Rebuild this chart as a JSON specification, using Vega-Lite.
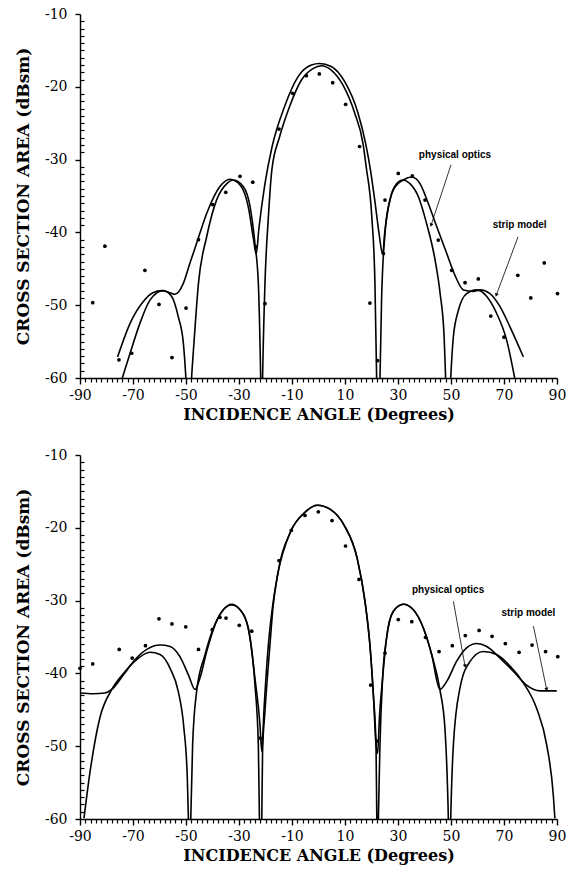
{
  "$schema": "https://vega.github.io/schema/vega-lite/v6.json",
  "background": "white",
  "padding": {"left": 14, "top": 7, "right": 5, "bottom": 3},
  "spacing": 26,
  "config": {
    "view": {"stroke": null},
    "axis": {
      "domainColor": "#000",
      "domainWidth": 1.4,
      "labelFont": "DejaVu Serif",
      "labelFontSize": 14,
      "labelColor": "#000",
      "titleFont": "DejaVu Serif",
      "titleFontWeight": "bold",
      "titleColor": "#000"
    }
  },
  "datasets": {
    "top_lines": [
      {"model":"strip model","x":-75.8,"y":-57.1},{"model":"strip model","x":-71.1,"y":-52.5},{"model":"strip model","x":-66.1,"y":-49.5},{"model":"strip model","x":-62.5,"y":-48.3},{"model":"strip model","x":-59.2,"y":-48.0},{"model":"strip model","x":-56.0,"y":-48.3},{"model":"strip model","x":-54.2,"y":-48.5},{"model":"strip model","x":-51.0,"y":-47.0},{"model":"strip model","x":-48.5,"y":-44.2},{"model":"strip model","x":-46.0,"y":-41.5},{"model":"strip model","x":-42.2,"y":-37.4},{"model":"strip model","x":-37.2,"y":-33.7},{"model":"strip model","x":-33.4,"y":-32.7},{"model":"strip model","x":-29.6,"y":-33.5},{"model":"strip model","x":-26.5,"y":-36.5},{"model":"strip model","x":-24.5,"y":-41.0},{"model":"strip model","x":-23.5,"y":-43.0},{"model":"strip model","x":-22.5,"y":-39.5},{"model":"strip model","x":-20.2,"y":-33.3},{"model":"strip model","x":-17.5,"y":-28.2},{"model":"strip model","x":-12.8,"y":-22.7},{"model":"strip model","x":-7.7,"y":-18.6},{"model":"strip model","x":-2.7,"y":-17.0},{"model":"strip model","x":0.4,"y":-16.8},{"model":"strip model","x":4.8,"y":-17.2},{"model":"strip model","x":9.9,"y":-19.3},{"model":"strip model","x":14.9,"y":-23.6},{"model":"strip model","x":17.8,"y":-27.8},{"model":"strip model","x":19.6,"y":-31.4},{"model":"strip model","x":21.2,"y":-35.5},{"model":"strip model","x":22.8,"y":-40.0},{"model":"strip model","x":24.2,"y":-43.0},{"model":"strip model","x":25.0,"y":-40.0},{"model":"strip model","x":25.9,"y":-37.5},{"model":"strip model","x":28.2,"y":-34.2},{"model":"strip model","x":32.0,"y":-32.8},{"model":"strip model","x":35.2,"y":-32.4},{"model":"strip model","x":38.3,"y":-33.3},{"model":"strip model","x":41.4,"y":-36.0},{"model":"strip model","x":44.6,"y":-39.2},{"model":"strip model","x":48.4,"y":-42.9},{"model":"strip model","x":51.5,"y":-45.9},{"model":"strip model","x":54.7,"y":-47.9},{"model":"strip model","x":58.4,"y":-48.1},{"model":"strip model","x":61.0,"y":-47.9},{"model":"strip model","x":64.7,"y":-48.4},{"model":"strip model","x":68.5,"y":-50.2},{"model":"strip model","x":72.3,"y":-53.0},{"model":"strip model","x":77.3,"y":-57.1},
      {"model":"physical optics","x":-74.3,"y":-60.3},{"model":"physical optics","x":-71.1,"y":-56.6},{"model":"physical optics","x":-67.4,"y":-52.5},{"model":"physical optics","x":-63.6,"y":-49.3},{"model":"physical optics","x":-58.6,"y":-48.0},{"model":"physical optics","x":-55.4,"y":-48.8},{"model":"physical optics","x":-52.9,"y":-51.6},{"model":"physical optics","x":-51.0,"y":-55.2},{"model":"physical optics","x":-50.0,"y":-60.3},{"model":"physical optics","x":-49.0,"y":-68},{"model":"physical optics","x":-47.9,"y":-60.0},{"model":"physical optics","x":-47.0,"y":-55.2},{"model":"physical optics","x":-45.3,"y":-47.0},{"model":"physical optics","x":-42.2,"y":-40.6},{"model":"physical optics","x":-38.4,"y":-35.5},{"model":"physical optics","x":-34.6,"y":-33.3},{"model":"physical optics","x":-32.1,"y":-32.8},{"model":"physical optics","x":-28.4,"y":-33.7},{"model":"physical optics","x":-25.8,"y":-36.5},{"model":"physical optics","x":-24.0,"y":-41.5},{"model":"physical optics","x":-22.7,"y":-47.0},{"model":"physical optics","x":-21.8,"y":-60.3},{"model":"physical optics","x":-21.45,"y":-68},{"model":"physical optics","x":-21.1,"y":-60.0},{"model":"physical optics","x":-20.2,"y":-47.0},{"model":"physical optics","x":-18.9,"y":-37.8},{"model":"physical optics","x":-17.6,"y":-31.4},{"model":"physical optics","x":-14.7,"y":-26.9},{"model":"physical optics","x":-10.9,"y":-22.7},{"model":"physical optics","x":-6.5,"y":-19.1},{"model":"physical optics","x":-2.1,"y":-17.5},{"model":"physical optics","x":1.1,"y":-17.1},{"model":"physical optics","x":4.8,"y":-17.7},{"model":"physical optics","x":9.2,"y":-19.75},{"model":"physical optics","x":13.65,"y":-23.6},{"model":"physical optics","x":16.8,"y":-27.8},{"model":"physical optics","x":18.0,"y":-31.0},{"model":"physical optics","x":20.1,"y":-37.8},{"model":"physical optics","x":21.3,"y":-47.0},{"model":"physical optics","x":21.95,"y":-60.3},{"model":"physical optics","x":22.5,"y":-68},{"model":"physical optics","x":23.2,"y":-60.0},{"model":"physical optics","x":23.8,"y":-49.3},{"model":"physical optics","x":25.1,"y":-40.1},{"model":"physical optics","x":27.0,"y":-35.5},{"model":"physical optics","x":29.5,"y":-33.3},{"model":"physical optics","x":31.8,"y":-32.8},{"model":"physical optics","x":34.5,"y":-33.3},{"model":"physical optics","x":37.7,"y":-35.1},{"model":"physical optics","x":40.8,"y":-38.8},{"model":"physical optics","x":44.0,"y":-43.8},{"model":"physical optics","x":45.9,"y":-48.4},{"model":"physical optics","x":47.4,"y":-54.3},{"model":"physical optics","x":48.0,"y":-60.3},{"model":"physical optics","x":49.0,"y":-68},{"model":"physical optics","x":49.9,"y":-60.0},{"model":"physical optics","x":50.9,"y":-54.3},{"model":"physical optics","x":52.8,"y":-50.7},{"model":"physical optics","x":55.9,"y":-48.4},{"model":"physical optics","x":59.7,"y":-47.9},{"model":"physical optics","x":63.5,"y":-48.8},{"model":"physical optics","x":67.2,"y":-51.1},{"model":"physical optics","x":71.0,"y":-54.8},{"model":"physical optics","x":74.2,"y":-60.3}
    ],
    "top_points": [
      {"x":-85.2,"y":-49.65},{"x":-80.6,"y":-41.9},{"x":-75.3,"y":-57.5},{"x":-70.5,"y":-56.6},{"x":-65.5,"y":-45.2},{"x":-60.2,"y":-49.9},{"x":-55.3,"y":-57.2},{"x":-50.0,"y":-50.4},{"x":-45.3,"y":-41.0},{"x":-39.9,"y":-36.2},{"x":-35.0,"y":-34.5},{"x":-29.6,"y":-32.3},{"x":-24.8,"y":-33.1},{"x":-23.7,"y":-42.0},{"x":-20.2,"y":-49.8},{"x":-14.9,"y":-25.8},{"x":-9.75,"y":-20.9},{"x":-4.6,"y":-18.47},{"x":0.3,"y":-18.24},{"x":5.35,"y":-19.43},{"x":10.25,"y":-22.4},{"x":15.5,"y":-28.2},{"x":19.4,"y":-49.7},{"x":22.3,"y":-57.6},{"x":24.5,"y":-42.9},{"x":25.1,"y":-35.55},{"x":30.1,"y":-31.9},{"x":35.4,"y":-32.25},{"x":40.2,"y":-35.55},{"x":45.2,"y":-41.05},{"x":50.25,"y":-45.2},{"x":55.3,"y":-46.9},{"x":60.3,"y":-46.4},{"x":65.0,"y":-51.5},{"x":70.0,"y":-54.4},{"x":75.2,"y":-45.9},{"x":80.1,"y":-49.0},{"x":85.2,"y":-44.2},{"x":90.2,"y":-48.4}
    ],
    "top_notes": [
      {"label":"physical optics","tx":51.5,"ty":-29.4,"ax":50.0,"ay":-30.7,"bx":42.5,"by":-39.0},
      {"label":"strip model","tx":75.9,"ty":-39.0,"ax":75.3,"ay":-40.6,"bx":67.1,"by":-48.6}
    ],
    "bottom_lines": [
      {"model":"strip model","x":-90,"y":-42.7},{"model":"strip model","x":-85,"y":-42.8},{"model":"strip model","x":-80.6,"y":-42.7},{"model":"strip model","x":-78,"y":-42.2},{"model":"strip model","x":-73.6,"y":-40.2},{"model":"strip model","x":-69.2,"y":-38.1},{"model":"strip model","x":-64.8,"y":-36.7},{"model":"strip model","x":-59.8,"y":-36.1},{"model":"strip model","x":-56,"y":-36.3},{"model":"strip model","x":-52.3,"y":-37.7},{"model":"strip model","x":-49.1,"y":-40.2},{"model":"strip model","x":-46.6,"y":-42.2},{"model":"strip model","x":-44.7,"y":-40.6},{"model":"strip model","x":-42.2,"y":-37.0},{"model":"strip model","x":-39,"y":-33.3},{"model":"strip model","x":-35.9,"y":-31.25},{"model":"strip model","x":-32.8,"y":-30.5},{"model":"strip model","x":-29.6,"y":-31.25},{"model":"strip model","x":-26.5,"y":-33.8},{"model":"strip model","x":-24,"y":-40.6},{"model":"strip model","x":-22.1,"y":-47},{"model":"strip model","x":-21.4,"y":-50.7},{"model":"strip model","x":-20.6,"y":-45.2},{"model":"strip model","x":-18.9,"y":-36},{"model":"strip model","x":-17.4,"y":-31},{"model":"strip model","x":-15.5,"y":-26.6},{"model":"strip model","x":-10.5,"y":-20.5},{"model":"strip model","x":-5.5,"y":-18.0},{"model":"strip model","x":-0.4,"y":-16.9},{"model":"strip model","x":4.6,"y":-17.5},{"model":"strip model","x":9.6,"y":-19.6},{"model":"strip model","x":14.6,"y":-24.2},{"model":"strip model","x":17.5,"y":-30.0},{"model":"strip model","x":19.4,"y":-36.1},{"model":"strip model","x":20.7,"y":-42.9},{"model":"strip model","x":21.7,"y":-49.8},{"model":"strip model","x":22.3,"y":-51.0},{"model":"strip model","x":23.0,"y":-46.0},{"model":"strip model","x":24.2,"y":-40.6},{"model":"strip model","x":25.7,"y":-35.1},{"model":"strip model","x":28.2,"y":-31.5},{"model":"strip model","x":32,"y":-30.5},{"model":"strip model","x":35.8,"y":-31.25},{"model":"strip model","x":39.6,"y":-33.8},{"model":"strip model","x":42.7,"y":-37.4},{"model":"strip model","x":45.8,"y":-42.2},{"model":"strip model","x":48.4,"y":-41.1},{"model":"strip model","x":52.1,"y":-38.35},{"model":"strip model","x":55.9,"y":-36.5},{"model":"strip model","x":59.7,"y":-35.9},{"model":"strip model","x":63.5,"y":-36.3},{"model":"strip model","x":68.5,"y":-37.9},{"model":"strip model","x":73.5,"y":-39.7},{"model":"strip model","x":78.5,"y":-41.6},{"model":"strip model","x":83.6,"y":-42.4},{"model":"strip model","x":89.9,"y":-42.4},
      {"model":"physical optics","x":-88.5,"y":-59.9},{"model":"physical optics","x":-86.2,"y":-53.5},{"model":"physical optics","x":-82.5,"y":-46.1},{"model":"physical optics","x":-78,"y":-42.2},{"model":"physical optics","x":-73.6,"y":-40},{"model":"physical optics","x":-68.6,"y":-38.1},{"model":"physical optics","x":-63.6,"y":-37.1},{"model":"physical optics","x":-59.8,"y":-37.4},{"model":"physical optics","x":-56,"y":-39.3},{"model":"physical optics","x":-52.9,"y":-42.5},{"model":"physical optics","x":-50.8,"y":-47.5},{"model":"physical optics","x":-49.5,"y":-54.4},{"model":"physical optics","x":-49.1,"y":-59.9},{"model":"physical optics","x":-48.6,"y":-68},{"model":"physical optics","x":-48.2,"y":-59.9},{"model":"physical optics","x":-47.5,"y":-49.8},{"model":"physical optics","x":-46,"y":-42.5},{"model":"physical optics","x":-42.8,"y":-37.4},{"model":"physical optics","x":-39.7,"y":-33.8},{"model":"physical optics","x":-35.9,"y":-31.25},{"model":"physical optics","x":-32.8,"y":-30.6},{"model":"physical optics","x":-29.6,"y":-31.25},{"model":"physical optics","x":-26.5,"y":-33.8},{"model":"physical optics","x":-24,"y":-41.5},{"model":"physical optics","x":-22.7,"y":-49.8},{"model":"physical optics","x":-22.3,"y":-59.9},{"model":"physical optics","x":-21.85,"y":-68},{"model":"physical optics","x":-21.4,"y":-59.9},{"model":"physical optics","x":-21.1,"y":-50.7},{"model":"physical optics","x":-20.2,"y":-45.2},{"model":"physical optics","x":-18.3,"y":-36},{"model":"physical optics","x":-17.2,"y":-31},{"model":"physical optics","x":-15.5,"y":-26.6},{"model":"physical optics","x":-10.5,"y":-20.5},{"model":"physical optics","x":-5.5,"y":-18.0},{"model":"physical optics","x":-0.4,"y":-16.9},{"model":"physical optics","x":4.6,"y":-17.5},{"model":"physical optics","x":9.6,"y":-19.6},{"model":"physical optics","x":14.6,"y":-24.2},{"model":"physical optics","x":17.5,"y":-30.0},{"model":"physical optics","x":19.4,"y":-36.1},{"model":"physical optics","x":20.7,"y":-42.9},{"model":"physical optics","x":21.7,"y":-49.8},{"model":"physical optics","x":22.0,"y":-59.9},{"model":"physical optics","x":22.3,"y":-68},{"model":"physical optics","x":22.6,"y":-59.9},{"model":"physical optics","x":23.2,"y":-49.8},{"model":"physical optics","x":24.2,"y":-40.6},{"model":"physical optics","x":25.7,"y":-35.1},{"model":"physical optics","x":28.2,"y":-31.5},{"model":"physical optics","x":32,"y":-30.5},{"model":"physical optics","x":35.8,"y":-31.25},{"model":"physical optics","x":39.6,"y":-33.8},{"model":"physical optics","x":42.7,"y":-37.4},{"model":"physical optics","x":45.8,"y":-42.2},{"model":"physical optics","x":47.7,"y":-47.5},{"model":"physical optics","x":49.0,"y":-59.9},{"model":"physical optics","x":49.45,"y":-68},{"model":"physical optics","x":49.9,"y":-59.9},{"model":"physical optics","x":50.9,"y":-49.8},{"model":"physical optics","x":53.4,"y":-42},{"model":"physical optics","x":57.2,"y":-38.35},{"model":"physical optics","x":62.2,"y":-37},{"model":"physical optics","x":67.2,"y":-37.4},{"model":"physical optics","x":72.3,"y":-39},{"model":"physical optics","x":77.3,"y":-41.3},{"model":"physical optics","x":82.3,"y":-44.8},{"model":"physical optics","x":86.1,"y":-49.8},{"model":"physical optics","x":88.6,"y":-56.7},{"model":"physical optics","x":89.2,"y":-59.9}
    ],
    "bottom_points": [
      {"x":-90,"y":-39.3},{"x":-85.2,"y":-38.7},{"x":-75.2,"y":-36.7},{"x":-70.3,"y":-37.9},{"x":-65.3,"y":-36.2},{"x":-60.2,"y":-32.5},{"x":-55.3,"y":-33.2},{"x":-50.1,"y":-33.6},{"x":-45.3,"y":-36.7},{"x":-40.1,"y":-34.0},{"x":-37.2,"y":-32.3},{"x":-34.9,"y":-32.4},{"x":-29.9,"y":-33.4},{"x":-25.2,"y":-34.2},{"x":-22.0,"y":-48.9},{"x":-14.9,"y":-24.5},{"x":-10.25,"y":-20.35},{"x":-5.1,"y":-18.3},{"x":-0.07,"y":-17.8},{"x":5.1,"y":-19.0},{"x":10.2,"y":-22.5},{"x":15.3,"y":-27.1},{"x":19.7,"y":-41.6},{"x":22.0,"y":-49.3},{"x":25.1,"y":-37.2},{"x":30.1,"y":-32.6},{"x":35.2,"y":-32.9},{"x":40.4,"y":-35.05},{"x":45.5,"y":-37.0},{"x":50.5,"y":-36.2},{"x":55.4,"y":-34.8},{"x":60.6,"y":-34.1},{"x":65.5,"y":-34.9},{"x":70.5,"y":-35.9},{"x":75.7,"y":-37.1},{"x":80.6,"y":-36.1},{"x":85.7,"y":-37.0},{"x":90.3,"y":-37.7}
    ],
    "bottom_notes": [
      {"label":"physical optics","tx":48.9,"ty":-28.5,"ax":50.9,"ay":-30.1,"bx":55.3,"by":-39.0},
      {"label":"strip model","tx":79.2,"ty":-31.7,"ax":81.1,"ay":-33.5,"bx":86.1,"by":-42.2}
    ]
  },
  "vconcat": [
    {
      "width": 477,
      "height": 364,
      "resolve": {"scale": {"x": "independent", "y": "independent"}, "axis": {"x": "independent", "y": "independent"}},
      "layer": [
        {
          "data": {"name": "top_lines"},
          "mark": {"type": "line", "interpolate": "monotone", "clip": true, "color": "#000", "strokeWidth": 1.6},
          "encoding": {
            "x": {"field": "x", "type": "quantitative", "title": "INCIDENCE ANGLE (Degrees)",
              "scale": {"domain": [-90, 90], "nice": false, "zero": false},
              "axis": {"orient": "bottom", "grid": false, "values": [-90,-70,-50,-30,-10,10,30,50,70,90], "labelExpr": "'' + datum.value", "labelOverlap": false, "labelFlush": false, "tickSize": 6, "tickWidth": 1.4, "tickColor": "#000", "labelPadding": 4, "titleFontSize": 16, "titlePadding": 4}},
            "y": {"field": "y", "type": "quantitative", "title": "CROSS SECTION AREA (dBsm)",
              "scale": {"domain": [-60, -10], "nice": false, "zero": false},
              "axis": {"orient": "left", "grid": false, "values": [-60,-50,-40,-30,-20,-10], "labelExpr": "'' + datum.value", "labelOverlap": false, "labelFlush": false, "tickSize": 5, "tickWidth": 1.4, "tickColor": "#000", "labelPadding": 8, "titleFontSize": 17, "titlePadding": 12}},
            "detail": {"field": "model", "type": "nominal"}
          }
        },
        {
          "data": {"name": "top_points"},
          "mark": {"type": "circle", "size": 14, "color": "#000", "opacity": 1},
          "encoding": {
            "x": {"field": "x", "type": "quantitative",
              "scale": {"domain": [-90, 90], "nice": false, "zero": false},
              "axis": {"orient": "bottom", "grid": false, "values": [-88,-86,-84,-82,-80,-78,-76,-74,-72,-68,-66,-64,-62,-60,-58,-56,-54,-52,-48,-46,-44,-42,-40,-38,-36,-34,-32,-28,-26,-24,-22,-20,-18,-16,-14,-12,-8,-6,-4,-2,0,2,4,6,8,12,14,16,18,20,22,24,26,28,32,34,36,38,40,42,44,46,48,52,54,56,58,60,62,64,66,68,72,74,76,78,80,82,84,86,88], "labels": false, "domain": false, "tickSize": 4, "tickWidth": 1.2, "tickColor": "#000", "title": null}},
            "y": {"field": "y", "type": "quantitative",
              "scale": {"domain": [-60, -10], "nice": false, "zero": false},
              "axis": {"orient": "left", "grid": false, "values": [-59,-58,-57,-56,-55,-54,-53,-52,-51,-49,-48,-47,-46,-45,-44,-43,-42,-41,-39,-38,-37,-36,-35,-34,-33,-32,-31,-29,-28,-27,-26,-25,-24,-23,-22,-21,-19,-18,-17,-16,-15,-14,-13,-12,-11], "labels": false, "domain": false, "tickSize": -4, "tickWidth": 1.2, "tickColor": "#000", "title": null}}
          }
        },
        {
          "data": {"name": "top_notes"},
          "mark": {"type": "rule", "color": "#000", "strokeWidth": 0.8},
          "encoding": {
            "x": {"field": "ax", "type": "quantitative", "scale": {"domain": [-90, 90], "nice": false, "zero": false}, "axis": null},
            "y": {"field": "ay", "type": "quantitative", "scale": {"domain": [-60, -10], "nice": false, "zero": false}, "axis": null},
            "x2": {"field": "bx"},
            "y2": {"field": "by"}
          }
        },
        {
          "data": {"name": "top_notes"},
          "transform": [{"filter": "datum.label === 'physical optics'"}],
          "mark": {"type": "point", "shape": "triangle-down", "filled": true, "size": 16, "angle": 17, "color": "#000", "opacity": 1},
          "encoding": {
            "x": {"field": "bx", "type": "quantitative", "scale": {"domain": [-90, 90], "nice": false, "zero": false}, "axis": null},
            "y": {"field": "by", "type": "quantitative", "scale": {"domain": [-60, -10], "nice": false, "zero": false}, "axis": null}
          }
        },
        {
          "data": {"name": "top_notes"},
          "transform": [{"filter": "datum.label === 'strip model'"}],
          "mark": {"type": "point", "shape": "triangle-down", "filled": true, "size": 16, "angle": 20, "color": "#000", "opacity": 1},
          "encoding": {
            "x": {"field": "bx", "type": "quantitative", "scale": {"domain": [-90, 90], "nice": false, "zero": false}, "axis": null},
            "y": {"field": "by", "type": "quantitative", "scale": {"domain": [-60, -10], "nice": false, "zero": false}, "axis": null}
          }
        },
        {
          "data": {"name": "top_notes"},
          "mark": {"type": "text", "font": "Liberation Sans", "fontSize": 10, "fontWeight": "bold", "color": "#000", "align": "center", "baseline": "middle"},
          "encoding": {
            "x": {"field": "tx", "type": "quantitative", "scale": {"domain": [-90, 90], "nice": false, "zero": false}, "axis": null},
            "y": {"field": "ty", "type": "quantitative", "scale": {"domain": [-60, -10], "nice": false, "zero": false}, "axis": null},
            "text": {"field": "label"}
          }
        }
      ]
    },
    {
      "width": 477,
      "height": 364,
      "resolve": {"scale": {"x": "independent", "y": "independent"}, "axis": {"x": "independent", "y": "independent"}},
      "layer": [
        {
          "data": {"name": "bottom_lines"},
          "mark": {"type": "line", "interpolate": "monotone", "clip": true, "color": "#000", "strokeWidth": 1.6},
          "encoding": {
            "x": {"field": "x", "type": "quantitative", "title": "INCIDENCE ANGLE (Degrees)",
              "scale": {"domain": [-90, 90], "nice": false, "zero": false},
              "axis": {"orient": "bottom", "grid": false, "values": [-90,-70,-50,-30,-10,10,30,50,70,90], "labelExpr": "'' + datum.value", "labelOverlap": false, "labelFlush": false, "tickSize": 6, "tickWidth": 1.4, "tickColor": "#000", "labelPadding": 4, "titleFontSize": 16, "titlePadding": 4}},
            "y": {"field": "y", "type": "quantitative", "title": "CROSS SECTION AREA (dBsm)",
              "scale": {"domain": [-60, -10], "nice": false, "zero": false},
              "axis": {"orient": "left", "grid": false, "values": [-60,-50,-40,-30,-20,-10], "labelExpr": "'' + datum.value", "labelOverlap": false, "labelFlush": false, "tickSize": 5, "tickWidth": 1.4, "tickColor": "#000", "labelPadding": 8, "titleFontSize": 17, "titlePadding": 12}},
            "detail": {"field": "model", "type": "nominal"}
          }
        },
        {
          "data": {"name": "bottom_points"},
          "mark": {"type": "circle", "size": 14, "color": "#000", "opacity": 1},
          "encoding": {
            "x": {"field": "x", "type": "quantitative",
              "scale": {"domain": [-90, 90], "nice": false, "zero": false},
              "axis": {"orient": "bottom", "grid": false, "values": [-88,-86,-84,-82,-80,-78,-76,-74,-72,-68,-66,-64,-62,-60,-58,-56,-54,-52,-48,-46,-44,-42,-40,-38,-36,-34,-32,-28,-26,-24,-22,-20,-18,-16,-14,-12,-8,-6,-4,-2,0,2,4,6,8,12,14,16,18,20,22,24,26,28,32,34,36,38,40,42,44,46,48,52,54,56,58,60,62,64,66,68,72,74,76,78,80,82,84,86,88], "labels": false, "domain": false, "tickSize": 4, "tickWidth": 1.2, "tickColor": "#000", "title": null}},
            "y": {"field": "y", "type": "quantitative",
              "scale": {"domain": [-60, -10], "nice": false, "zero": false},
              "axis": {"orient": "left", "grid": false, "values": [-59,-58,-57,-56,-55,-54,-53,-52,-51,-49,-48,-47,-46,-45,-44,-43,-42,-41,-39,-38,-37,-36,-35,-34,-33,-32,-31,-29,-28,-27,-26,-25,-24,-23,-22,-21,-19,-18,-17,-16,-15,-14,-13,-12,-11], "labels": false, "domain": false, "tickSize": -4, "tickWidth": 1.2, "tickColor": "#000", "title": null}}
          }
        },
        {
          "data": {"name": "bottom_notes"},
          "mark": {"type": "rule", "color": "#000", "strokeWidth": 0.8},
          "encoding": {
            "x": {"field": "ax", "type": "quantitative", "scale": {"domain": [-90, 90], "nice": false, "zero": false}, "axis": null},
            "y": {"field": "ay", "type": "quantitative", "scale": {"domain": [-60, -10], "nice": false, "zero": false}, "axis": null},
            "x2": {"field": "bx"},
            "y2": {"field": "by"}
          }
        },
        {
          "data": {"name": "bottom_notes"},
          "transform": [{"filter": "datum.label === 'physical optics'"}],
          "mark": {"type": "point", "shape": "triangle-down", "filled": true, "size": 16, "angle": 350, "color": "#000", "opacity": 1},
          "encoding": {
            "x": {"field": "bx", "type": "quantitative", "scale": {"domain": [-90, 90], "nice": false, "zero": false}, "axis": null},
            "y": {"field": "by", "type": "quantitative", "scale": {"domain": [-60, -10], "nice": false, "zero": false}, "axis": null}
          }
        },
        {
          "data": {"name": "bottom_notes"},
          "transform": [{"filter": "datum.label === 'strip model'"}],
          "mark": {"type": "point", "shape": "triangle-down", "filled": true, "size": 16, "angle": 348, "color": "#000", "opacity": 1},
          "encoding": {
            "x": {"field": "bx", "type": "quantitative", "scale": {"domain": [-90, 90], "nice": false, "zero": false}, "axis": null},
            "y": {"field": "by", "type": "quantitative", "scale": {"domain": [-60, -10], "nice": false, "zero": false}, "axis": null}
          }
        },
        {
          "data": {"name": "bottom_notes"},
          "mark": {"type": "text", "font": "Liberation Sans", "fontSize": 10, "fontWeight": "bold", "color": "#000", "align": "center", "baseline": "middle"},
          "encoding": {
            "x": {"field": "tx", "type": "quantitative", "scale": {"domain": [-90, 90], "nice": false, "zero": false}, "axis": null},
            "y": {"field": "ty", "type": "quantitative", "scale": {"domain": [-60, -10], "nice": false, "zero": false}, "axis": null},
            "text": {"field": "label"}
          }
        }
      ]
    }
  ]
}
